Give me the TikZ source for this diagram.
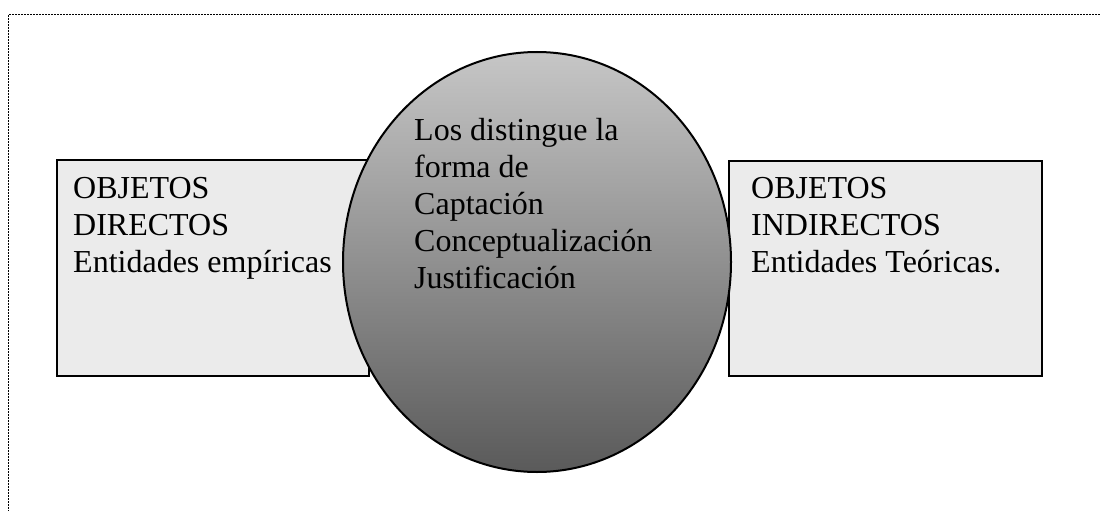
\documentclass[tikz,border=0pt]{standalone}
\usepackage{fontspec}
\setmainfont{Liberation Serif}
\usetikzlibrary{shapes.geometric}
\definecolor{boxfill}{RGB}{235,235,235}
\definecolor{elltop}{RGB}{198,198,198}
\definecolor{ellbot}{RGB}{90,90,90}
\begin{document}
\begin{tikzpicture}[x=1pt,y=-1pt,
  box/.style={draw=black,line width=1.5pt,fill=boxfill},
  oval/.style={draw=black,line width=2pt,top color=elltop,bottom color=ellbot},
  label/.style={font=\fontsize{32}{37}\selectfont,align=left,inner sep=0pt,anchor=base west},
  frame/.style={line width=1.8pt,dash pattern=on 1.8pt off 1.2pt}]
\useasboundingbox (0,0) rectangle (1100,511);
\coordinate (ftop) at (1100,14.5);
\coordinate (fcorner) at (8.5,14.5);
\coordinate (fbot) at (8.5,511);
\draw[frame] (ftop) -- (fcorner) -- (fbot);
\path[box] (57,160) rectangle (369,376) coordinate (lbox);
\path[box] (729,161) rectangle (1042,376) coordinate (rbox);
\path[oval] (537,262) ellipse [x radius=194, y radius=210];
\node[label] (ltext) at (73,272) {OBJETOS\\DIRECTOS\\Entidades empíricas};
\node[label] (rtext) at (751,272) {OBJETOS\\INDIRECTOS\\Entidades Teóricas.};
\node[label] (ctext) at (414,288) {Los distingue la\\forma de\\Captación\\Conceptualización\\Justificación};
\end{tikzpicture}
\end{document}
